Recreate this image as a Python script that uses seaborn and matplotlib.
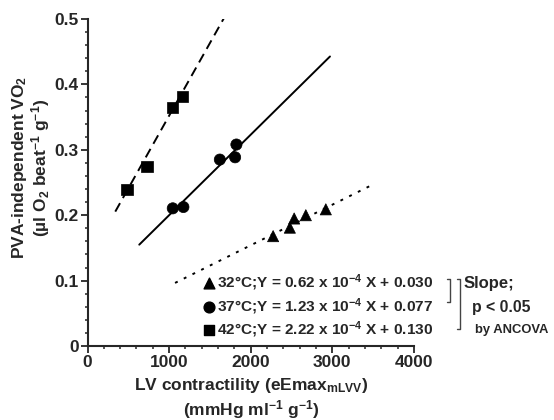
import numpy as np
import pandas as pd
import matplotlib
matplotlib.use("Agg")
import matplotlib.pyplot as plt
import seaborn as sns
from matplotlib.ticker import MultipleLocator

# data
temps = ["32", "37", "42"]
x_32 = [2275, 2480, 2533, 2676, 2921]
y_32 = [0.168, 0.181, 0.195, 0.200, 0.209]
x_37 = [1045, 1175, 1622, 1809, 1825]
y_37 = [0.2105, 0.2125, 0.285, 0.2885, 0.308]
x_42 = [484, 728, 1045, 1163]
y_42 = [0.2396, 0.274, 0.364, 0.382]

# regression lines as printed in the legend, with the drawn x range
slopes = [0.62e-4, 1.23e-4, 2.22e-4]
intercepts = [0.030, 0.077, 0.130]
slope_txt = ["0.62", "1.23", "2.22"]
icpt_txt = ["0.030", "0.077", "0.130"]
line_start = [1073, 634, 340]
line_end = [3480, 2972, 1670]

sns.set_theme(style="ticks")
plt.rcParams["font.family"] = ["Liberation Sans", "DejaVu Sans"]
plt.rcParams["font.weight"] = "bold"
plt.rcParams["mathtext.fontset"] = "custom"
plt.rcParams["mathtext.rm"] = "Liberation Sans:bold"
plt.rcParams["mathtext.bf"] = "Liberation Sans:bold"
plt.rcParams["mathtext.it"] = "Liberation Sans:bold"
plt.rcParams["mathtext.default"] = "bf"

df = pd.DataFrame({
    "x": x_32 + x_37 + x_42,
    "y": y_32 + y_37 + y_42,
    "temp": ["32"] * len(x_32) + ["37"] * len(x_37) + ["42"] * len(x_42),
})
markers = {"32": "^", "37": "o", "42": "s"}
styles = {"32": (0, (1.5, 3.5)), "37": "-", "42": (0, (5, 3))}

W, H = 554, 420
fig = plt.figure(figsize=(W / 100, H / 100), dpi=100)
ax = fig.add_axes([0.158, 0.176, 0.589, 0.779])

for t, m, b, x0, x1 in zip(temps, slopes, intercepts, line_start, line_end):
    lx = np.array([x0, x1])
    sns.lineplot(x=lx, y=m * lx + b, ax=ax, color="black", lw=1.4,
                 linestyle=styles[t], legend=False)

sns.scatterplot(data=df, x="x", y="y", style="temp", markers=markers,
                color="black", s=65, edgecolor="black", linewidth=0.5,
                legend=False, ax=ax, zorder=3)

ax.set_xlim(0, 4000)
ax.set_ylim(0, 0.5)
ax.set_xticks([0, 1000, 2000, 3000, 4000])
ax.set_yticks([0, 0.1, 0.2, 0.3, 0.4, 0.5])
ax.set_yticklabels(["0", "0.1", "0.2", "0.3", "0.4", "0.5"])
ax.xaxis.set_minor_locator(MultipleLocator(200))
ax.yaxis.set_minor_locator(MultipleLocator(0.02))
ax.tick_params(which="major", length=5, width=1.3, labelsize=12.5, pad=1.5)
ax.tick_params(which="minor", length=2.5, width=1.1)
for lab in ax.get_xticklabels() + ax.get_yticklabels():
    lab.set_fontweight("bold")
sns.despine(ax=ax)
for sp in ["left", "bottom"]:
    ax.spines[sp].set_linewidth(1.5)

ax.set_xlabel("LV contractility (eEmax$_{mLVV}$)\n(mmHg ml$^{-1}$ g$^{-1}$)",
              fontsize=12.5, fontweight="bold", linespacing=1.2)
ax.xaxis.set_label_coords(0.5, -0.09)
ax.xaxis.label.set_va("top")
ax.set_ylabel("PVA-independent VO$_2$\n(µl O$_2$ beat$^{-1}$ g$^{-1}$)",
              fontsize=12.5, fontweight="bold", linespacing=1.05)
ax.yaxis.set_label_coords(-0.108, 0.545)


def px(x, y):
    # pixel position -> axes fraction
    return (x - 87.7) / 326.3, (346 - y) / 327


# legend with equations
rows_y = [283, 307, 330]
for t, s, c, ry in zip(temps, slope_txt, icpt_txt, rows_y):
    ax.scatter(*px(209, ry), marker=markers[t], s=60, color="black",
               transform=ax.transAxes, clip_on=False)
    ax.text(*px(217, ry), f"{t}°C;Y = {s} x 10$^{{-4}}$ X + {c}",
            transform=ax.transAxes, fontsize=11.1, fontweight="bold",
            va="center", ha="left")

# brackets and ANCOVA note
for xv, y0, y1 in [(450, 279, 302), (460, 279, 329)]:
    bx = [xv - 3, xv, xv, xv - 3]
    by = [y0, y0, y1, y1]
    pts = [px(a, b) for a, b in zip(bx, by)]
    ax.plot([p[0] for p in pts], [p[1] for p in pts], color="#444444",
            lw=1.0, transform=ax.transAxes, clip_on=False)

ax.text(*px(464, 283), "Slope;", transform=ax.transAxes, fontsize=12,
        fontweight="bold", va="center")
ax.text(*px(472, 307), "p < 0.05", transform=ax.transAxes, fontsize=11.4,
        fontweight="bold", va="center")
ax.text(*px(475, 330), "by ANCOVA", transform=ax.transAxes, fontsize=9.4,
        fontweight="bold", va="center")

fig.savefig("out.png", dpi=100)
